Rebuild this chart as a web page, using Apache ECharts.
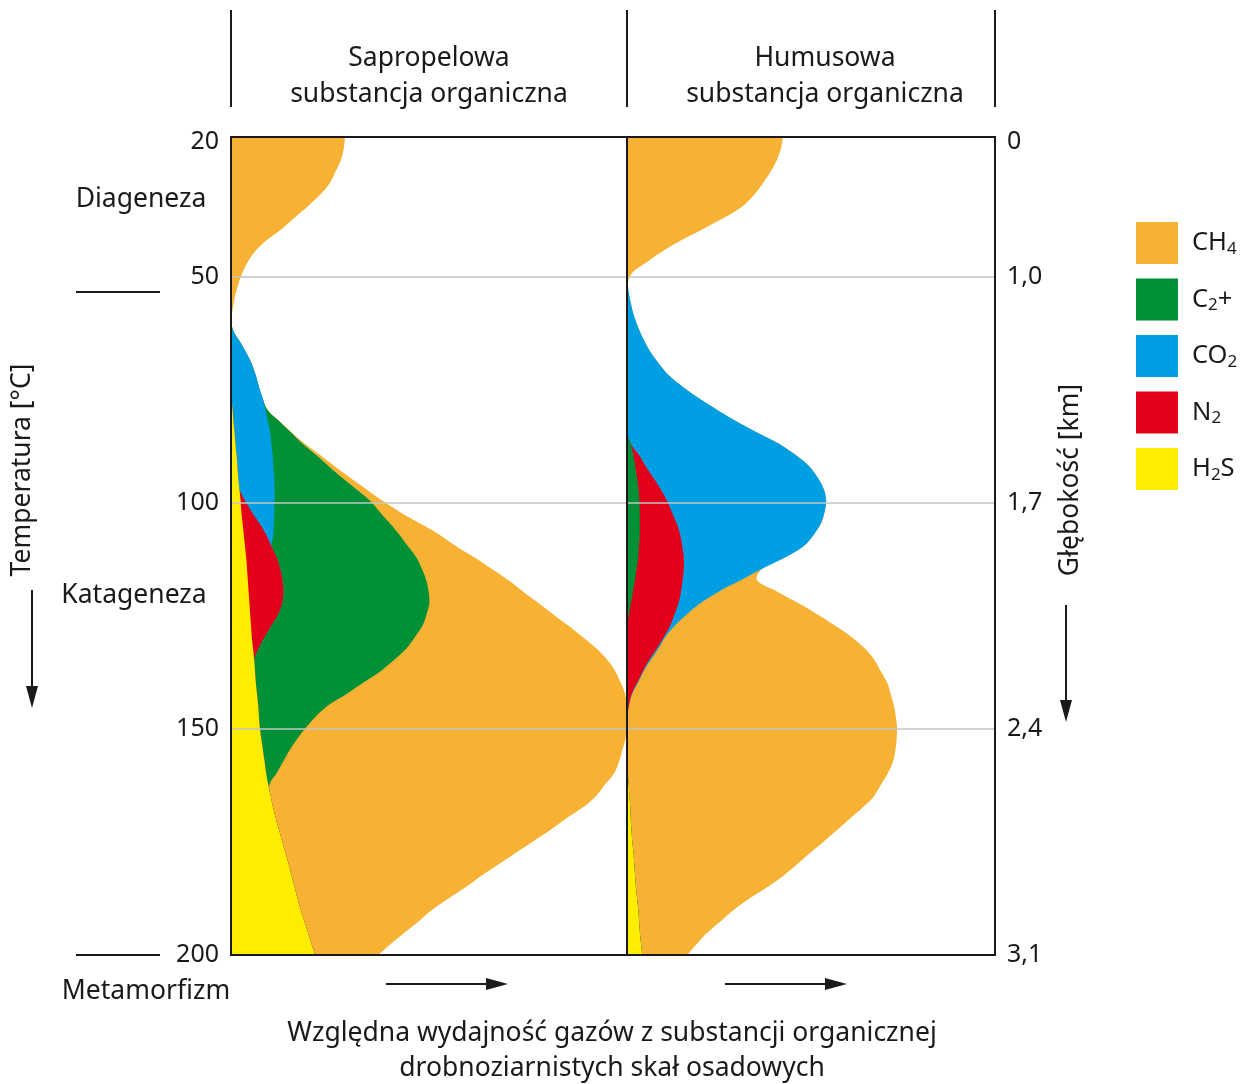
<!DOCTYPE html>
<html>
<head>
<meta charset="UTF-8">
<title>Wydajnosc gazow</title>
<script type="text/javascript" src="https://cdn.jsdelivr.net/npm/echarts@6/dist/echarts.min.js"></script>
<style type="text/css">
html, body { margin: 0; padding: 0; background-color: #fff; }
#chart { width: 1244px; height: 1084px; }
</style>
</head>
<body>
<div id="chart"></div>
<script type="text/javascript">
	// temperatura [°C], co 2,5 stopnia
	var temps = ['20','22.5','25','27.5','30','32.5','35','37.5','40','42.5','45','47.5','50','52.5','55','57.5',
		'60','62.5','65','67.5','70','72.5','75','77.5','80','82.5','85','87.5','90','92.5','95','97.5',
		'100','102.5','105','107.5','110','112.5','115','117.5','120','122.5','125','127.5','130','132.5',
		'135','137.5','140','142.5','145','147.5','150','152.5','155','157.5','160','162.5','165','167.5',
		'170','172.5','175','177.5','180','182.5','185','187.5','190','192.5','195','197.5','200'];
	var tempTicks = [20, 50, 100, 150, 200];
	var depthTicks = ['0', '1,0', '1,7', '2,4', '3,1'];
	var gridTicks = [50, 100, 150];

	// Sapropelowa - wzgledna wydajnosc (szerokosc warstwy)
	var h2sSapro = [0,0,0,0,0,0,0,0,0,0,0,0,0,0,0,0,0,0,0,0,0,0,0,
		0.1,0.4,0.6,0.9,1.1,1.4,1.6,1.8,2.1,2.4,2.6,2.9,3.2,3.5,3.8,4,4.2,4.4,4.6,4.8,
		5,5.2,5.5,5.8,6,6.2,6.5,6.8,7,7.2,7.6,8,8.4,8.8,9.3,9.9,10.5,11.2,12,12.8,
		13.6,14.4,15.1,15.9,16.6,17.4,18.3,19.2,20.1,21];
	var n2Sapro = [0,0,0,0,0,0,0,0,0,0,0,0,0,0,0,0,0,0,0,0,0,0,0,0,0,0,0,0,0,0,0,0,
		1.1,2.6,4.2,5.6,6.6,7.6,8.3,8.7,8.7,8.2,7,5.1,3.2,1.4,
		0,0,0,0,0,0,0,0,0,0,0,0,0,0,0,0,0,0,0,0,0,0,0,0,0,0,0];
	var co2Sapro = [0,0,0,0,0,0,0,0,0,0,0,0,0,0,0,0,0,
		0.5,2.2,3.8,5.2,6.2,7,7.8,8.2,8.6,8.9,9,9,9,9,8.8,7.4,5.6,3.6,1.8,0.1,
		0,0,0,0,0,0,0,0,0,0,0,0,0,0,0,0,0,0,0,0,0,0,0,0,0,0,0,0,0,0,0,0,0,0,0,0];
	var c2Sapro = [0,0,0,0,0,0,0,0,0,0,0,0,0,0,0,0,0,0,0,0,0,0,0,0,
		0.5,2.8,5.2,7.8,10.9,13.9,17,20.4,23.8,26.4,29,31.5,34,34.9,35.4,35.9,36.3,36.8,37.1,37.8,
		37.6,37,35.1,31.5,27,22.5,17.6,14.2,11.5,8.9,6.6,4.6,2.6,0.3,
		0,0,0,0,0,0,0,0,0,0,0,0,0,0,0];
	var ch4Sapro = [28.5,28.2,27.5,26.2,24.8,22.5,19.5,16.2,13,9.2,6.2,4.2,2.8,1.8,1,0.5,0.1,
		0,0,0,0,0,0,0,0,
		0.1,0.2,0.6,1,1.5,2,2.5,3.1,5,7.5,10,12,14.5,17.4,20.5,23.6,27.2,31.6,36.4,41.9,
		47.4,53.1,58.5,64.2,69.5,74.6,77.8,80.2,82.1,83.2,84,84.4,83.9,81.4,77.5,72.5,67.8,62.7,57.6,52.6,
		47.6,42.9,37.9,33,28.7,24.3,19.9,15.8];

	// Humusowa
	var h2sHumus = [0,0,0,0,0,0,0,0,0,0,0,0,0,0,0,0,0,0,0,0,0,0,0,0,0,0,0,0,0,0,0,0,0,0,0,0,0,0,0,0,
		0,0,0,0,0,0,0,0,0,0,0,0,0,0,0,
		0.1,0.2,0.4,0.6,0.8,0.9,1.1,1.3,1.6,1.8,2,2.2,2.5,2.8,3,3.2,3.5,3.8];
	var c2Humus = [0,0,0,0,0,0,0,0,0,0,0,0,0,0,0,0,0,0,0,0,0,0,0,0,0,0,0,
		0.9,1.6,2.1,2.5,2.9,3.1,3.2,3.2,3.2,3,2.8,2.4,2,1.5,1,0.5,0.2,
		0,0,0,0,0,0,0,0,0,0,0,0,0,0,0,0,0,0,0,0,0,0,0,0,0,0,0,0,0];
	var n2Humus = [0,0,0,0,0,0,0,0,0,0,0,0,0,0,0,0,0,0,0,0,0,0,0,0,0,0,0,0,
		1.4,2.6,4.1,5.5,6.9,8,9.2,10.1,10.8,11.4,11.8,11.9,12,11.9,11.4,10.6,9.2,7.5,5.6,4,2.6,1.2,0.5,0.1,
		0,0,0,0,0,0,0,0,0,0,0,0,0,0,0,0,0,0,0,0,0];
	var co2Humus = [0,0,0,0,0,0,0,0,0,0,0,0,0,
		0.2,0.6,1.2,2,3.1,4.4,6,8.1,10.5,14,18,22.5,27.2,32.5,37.1,39.2,40.9,41.1,40.8,39.8,
		38.2,36.1,33.4,30.4,25.4,19.6,14.6,9.5,5.6,3.1,1.2,0.4,0.4,0.4,0.2,0.2,0.1,
		0,0,0,0,0,0,0,0,0,0,0,0,0,0,0,0,0,0,0,0,0,0,0];
	var ch4Humus = [39,38.5,37.5,36,34.1,32,29.2,24.8,19.5,14,9.2,5,1.2,
		0,0,0,0,0,0,0,0,0,0,0,0,0,0,0,0,0,0,0,0,0,0,0,0,0,0,
		4,14.5,24.2,32.5,40,46.5,51.5,55.8,59.2,62.2,64.6,66.2,67.1,67.5,67.4,67.1,66.4,65,63.1,61.2,
		58.2,54.8,51.4,47.9,44.2,40.8,37.2,33,28.2,24,20.5,17,14,11.2];

	var FONT = 'Noto Sans';
	var INK = '#1a1a1a';
	var colors = {
		'CH4': '#F7B233',
		'C2+': '#009036',
		'CO2': '#009FE3',
		'N2': '#E3001B',
		'H2S': '#FFED00'
	};
	var subs = {
		'CH4': 'CH{s|4}',
		'C2+': 'C{s|2}+',
		'CO2': 'CO{s|2}',
		'N2': 'N{s|2}',
		'H2S': 'H{s|2}S'
	};

	// warstwy ukladane od lewej krawedzi - sumy narastajace
	function cumulate(layers) {
		var out = [];
		var run = temps.map(function() { return 0; });
		layers.forEach(function(w) {
			run = run.map(function(v, j) { return v + w[j]; });
			out.push(run);
		});
		return out;
	}
	var saproCum = cumulate([h2sSapro, n2Sapro, co2Sapro, c2Sapro, ch4Sapro]);
	var humusCum = cumulate([h2sHumus, c2Humus, n2Humus, co2Humus, ch4Humus]);

	// jedna wygladzona plaszczyzna od osi do prawej krawedzi warstwy
	function layer(name, cum, idx) {
		return {
			name: name,
			type: 'custom',
			coordinateSystem: 'cartesian2d',
			xAxisIndex: idx,
			yAxisIndex: idx,
			clip: true,
			silent: true,
			itemStyle: { color: colors[name] },
			data: cum.map(function(v, j) { return [v, j]; }),
			renderItem: function(params, api) {
				if (params.dataIndex !== 0) return null;
				var pts = [];
				for (var j = 0; j < cum.length; j++) {
					pts.push(api.coord([cum[j], j]));
				}
				var last = cum.length - 1;
				var bottom = api.coord([0, last]);
				var top = api.coord([0, 0]);
				// doubled corners keep the frame edges straight
				pts.push(pts[last].slice(), bottom, bottom.slice(), top, top.slice(), pts[0].slice());
				return {
					type: 'polygon',
					shape: { points: pts, smooth: 0.35 },
					style: { fill: colors[name] }
				};
			}
		};
	}

	function catAxis(idx) {
		return {
			type: 'category', gridIndex: idx, data: temps, inverse: true,
			boundaryGap: false, show: false
		};
	}

	function valAxis(idx, pos) {
		return {
			type: 'value', gridIndex: idx, position: pos, min: 19, max: 200, inverse: true,
			z: 5,
			axisLine: { show: false },
			axisTick: { show: false, customValues: gridTicks },
			splitLine: { show: true, lineStyle: { color: '#c4c4c4', width: 1.5 } },
			axisLabel: {
				customValues: tempTicks,
				margin: 12,
				fontFamily: FONT,
				fontSize: 25,
				color: INK,
				formatter: function(v) {
					if (pos == 'right') return depthTicks[tempTicks.indexOf(v)];
					return String(v);
				}
			}
		};
	}

	function txt(x, y, s, rot) {
		return {
			type: 'text', x: x, y: y, rotation: rot || 0, z: 20,
			style: {
				text: s, fill: INK, fontFamily: FONT, fontSize: 26.5,
				textAlign: 'center', textVerticalAlign: 'middle'
			}
		};
	}
	function seg(x1, y1, x2, y2) {
		return { type: 'line', z: 20, shape: { x1: x1, y1: y1, x2: x2, y2: y2 },
			style: { stroke: INK, lineWidth: 2 } };
	}
	function arrowDown(x, y1, y2) {
		return [seg(x, y1, x, y2 - 18),
			{ type: 'polygon', z: 20, shape: { points: [[x - 6, y2 - 22], [x + 6, y2 - 22], [x, y2]] }, style: { fill: INK } }];
	}
	function arrowRight(x1, x2, y) {
		return [seg(x1, y, x2 - 18, y),
			{ type: 'polygon', z: 20, shape: { points: [[x2 - 22, y - 6], [x2 - 22, y + 6], [x2, y]] }, style: { fill: INK } }];
	}

	var graphics = [
		seg(231, 10, 231, 107), seg(627, 10, 627, 107), seg(995, 10, 995, 107),
		txt(429, 58, 'Sapropelowa'), txt(429, 94, 'substancja organiczna'),
		txt(825, 58, 'Humusowa'), txt(825, 94, 'substancja organiczna'),
		txt(141, 199, 'Diageneza'), seg(76, 292, 160, 292),
		txt(134, 595, 'Katageneza'),
		seg(76, 955, 160, 955), txt(146, 991, 'Metamorfizm'),
		txt(22, 470, 'Temperatura [°C]', Math.PI / 2),
		txt(1070, 480, 'Głębokość [km]', Math.PI / 2),
		txt(612, 1033, 'Względna wydajność gazów z substancji organicznej'),
		txt(612, 1068, 'drobnoziarnistych skał osadowych')
	].concat(arrowDown(32, 590, 708), arrowDown(1066, 605, 722),
		arrowRight(386, 508, 984), arrowRight(725, 847, 984));

	var myChart = echarts.init(document.getElementById('chart'), null, { renderer: 'canvas' });
	var option = {
		animation: false,
		backgroundColor: '#ffffff',
		grid: [
			{ left: 231, top: 137, width: 396, height: 818, show: true, z: 10,
				borderColor: INK, borderWidth: 2, backgroundColor: 'transparent' },
			{ left: 627, top: 137, width: 368, height: 818, show: true, z: 10,
				borderColor: INK, borderWidth: 2, backgroundColor: 'transparent' }
		],
		xAxis: [
			{ type: 'value', gridIndex: 0, min: 0, max: 99, show: false },
			{ type: 'value', gridIndex: 1, min: 0, max: 92, show: false }
		],
		yAxis: [catAxis(0), catAxis(1), valAxis(0, 'left'), valAxis(1, 'right')],
		legend: {
			orient: 'vertical',
			left: 1136,
			top: 222,
			padding: 0,
			itemWidth: 42,
			itemHeight: 42,
			itemGap: 14.5,
			icon: 'rect',
			selectedMode: false,
			data: ['CH4', 'C2+', 'CO2', 'N2', 'H2S'],
			formatter: function(name) { return subs[name]; },
			textStyle: {
				fontFamily: FONT, fontSize: 25.5, color: INK, padding: [0, 0, 0, 9],
				rich: {
					s: { fontFamily: FONT, fontSize: 17, color: INK, padding: [12, 0, 0, 0] }
				}
			}
		},
		// od warstwy zewnetrznej do wewnetrznej
		series: [
			layer('CH4', saproCum[4], 0),
			layer('C2+', saproCum[3], 0),
			layer('CO2', saproCum[2], 0),
			layer('N2', saproCum[1], 0),
			layer('H2S', saproCum[0], 0),
			layer('CH4', humusCum[4], 1),
			layer('CO2', humusCum[3], 1),
			layer('N2', humusCum[2], 1),
			layer('C2+', humusCum[1], 1),
			layer('H2S', humusCum[0], 1)
		],
		graphic: graphics
	};
	myChart.setOption(option);
</script>
</body>
</html>
